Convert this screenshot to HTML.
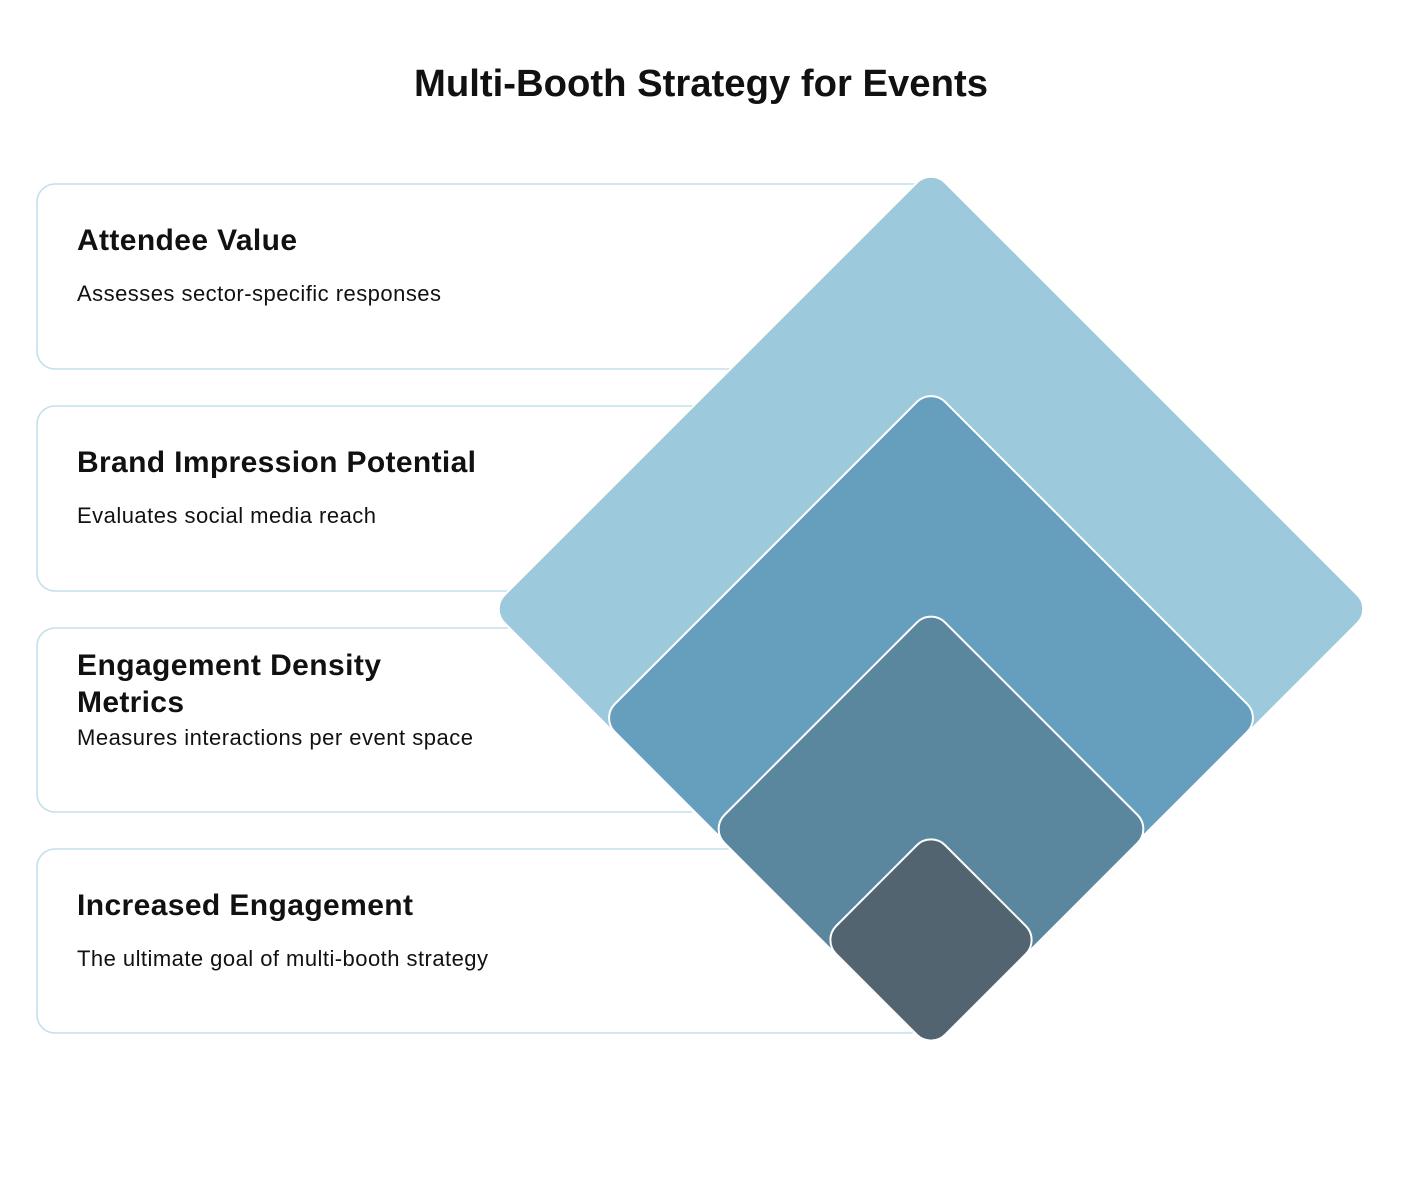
<!DOCTYPE html>
<html><head><style>
body{margin:0;background:#fff;}
svg{display:block;}
</style></head><body>
<svg width="1405" height="1200" viewBox="0 0 1405 1200" xmlns="http://www.w3.org/2000/svg" font-family="Liberation Sans, Arial, sans-serif">
<rect width="1405" height="1200" fill="#fff"/>
<text x="414" y="96" font-size="38" font-weight="bold" fill="#111" textLength="574" lengthAdjust="spacingAndGlyphs">Multi-Booth Strategy for Events</text>
<g fill="#fff" stroke="#c4dfec" stroke-width="1.6">
<rect x="37" y="184" width="900" height="185" rx="18"/>
<rect x="37" y="406" width="900" height="185" rx="18"/>
<rect x="37" y="628" width="900" height="184" rx="18"/>
<rect x="37" y="849" width="900" height="184" rx="18"/>
</g>
<g font-size="30" font-weight="bold" fill="#111" lengthAdjust="spacingAndGlyphs">
<text x="77" y="250" textLength="220">Attendee Value</text>
<text x="77" y="472" textLength="399">Brand Impression Potential</text>
<text x="77" y="675" textLength="304">Engagement Density</text>
<text x="77" y="712" textLength="107">Metrics</text>
<text x="77" y="915" textLength="336">Increased Engagement</text>
</g>
<g font-size="22" fill="#111" lengthAdjust="spacingAndGlyphs">
<text x="77" y="301" textLength="364">Assesses sector-specific responses</text>
<text x="77" y="523" textLength="299">Evaluates social media reach</text>
<text x="77" y="745" textLength="396">Measures interactions per event space</text>
<text x="77" y="966" textLength="411">The ultimate goal of multi-booth strategy</text>
</g>
<g stroke="#fff" stroke-width="2">
<rect x="619.5" y="297.5" width="623" height="623" rx="20" fill="#9dc9dd" transform="rotate(45 931 609)"/>
<rect x="697.5" y="484.5" width="467" height="467" rx="20" fill="#659fbd" transform="rotate(45 931 718)"/>
<rect x="775" y="673" width="312" height="312" rx="20" fill="#5a879d" transform="rotate(45 931 829)"/>
<rect x="854" y="863" width="154" height="154" rx="20" fill="#51646f" transform="rotate(45 931 940)"/>
</g>
</svg>
</body></html>
